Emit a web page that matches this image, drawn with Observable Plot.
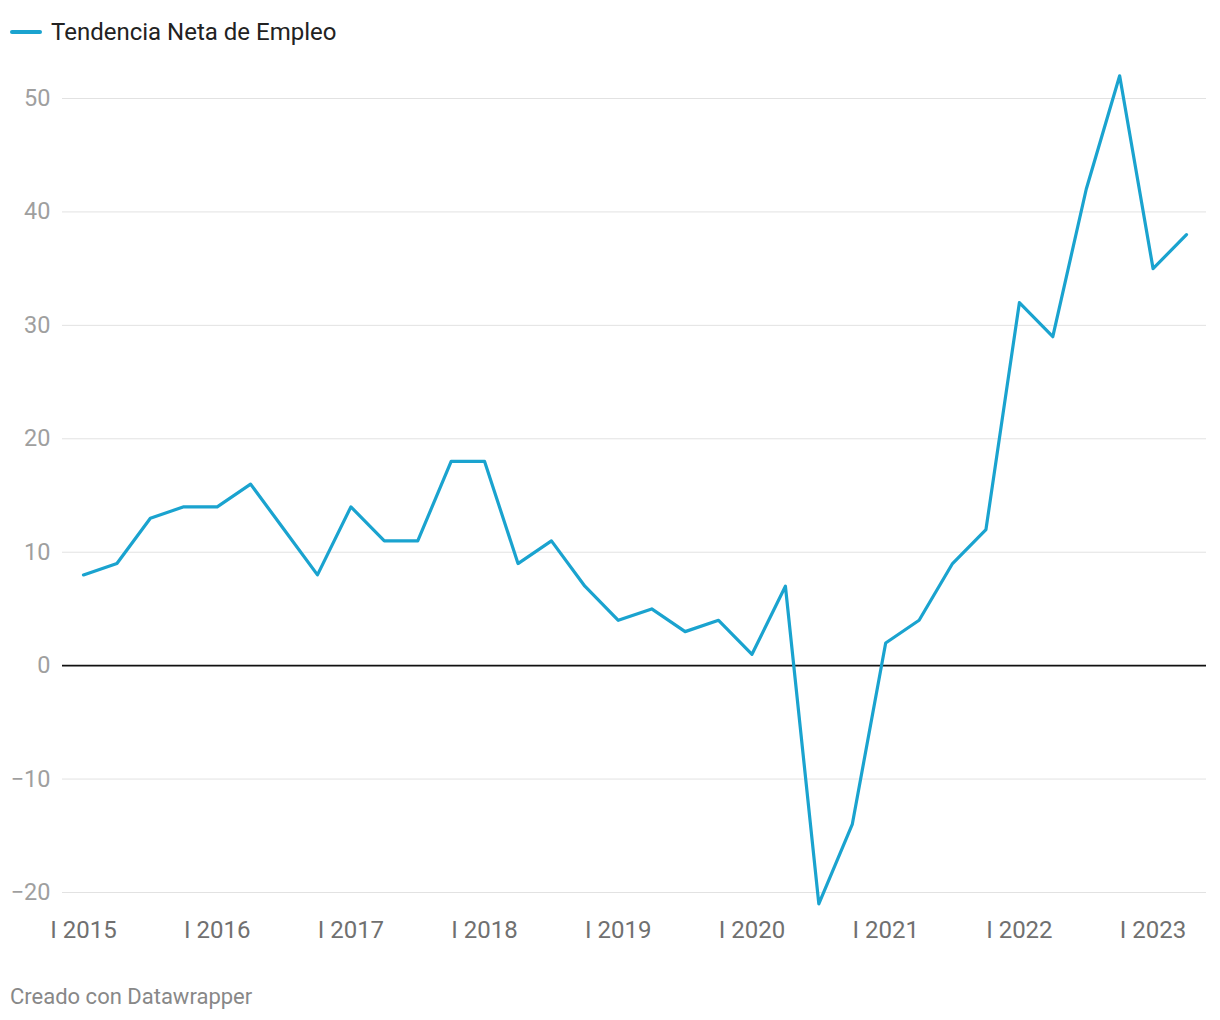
<!DOCTYPE html>
<html><head><meta charset="utf-8">
<script src="https://cdn.jsdelivr.net/npm/d3@7"></script>
<script src="https://cdn.jsdelivr.net/npm/@observablehq/plot@0.6"></script>
<style>
body{margin:0;background:#fff;font-family:Roboto,sans-serif;width:1220px;height:1020px;position:relative;overflow:hidden}
#legend{position:absolute;left:0;top:0;width:1220px;height:64px}
#legend .sw{position:absolute;left:10px;top:30px;width:32px;height:4px;border-radius:2px;background:#1aa3cf}
#legend .lb{position:absolute;left:51px;top:18px;font-size:24px;line-height:28px;color:#222}
#chart{position:absolute;left:0;top:64px}
#caption{position:absolute;left:10px;top:984px;font-size:22px;line-height:26px;color:#888}
</style></head><body>
<div id="legend"><span class="sw"></span><span class="lb">Tendencia Neta de Empleo</span></div>
<div id="chart"></div>
<div id="caption">Creado con Datawrapper</div>
<script>
const quarters = [
  "I 2015","II 2015","III 2015","IV 2015",
  "I 2016","II 2016","III 2016","IV 2016",
  "I 2017","II 2017","III 2017","IV 2017",
  "I 2018","II 2018","III 2018","IV 2018",
  "I 2019","II 2019","III 2019","IV 2019",
  "I 2020","II 2020","III 2020","IV 2020",
  "I 2021","II 2021","III 2021","IV 2021",
  "I 2022","II 2022","III 2022","IV 2022",
  "I 2023","II 2023"
];
const values = [
  8, 9, 13, 14,
  14, 16, 12, 8,
  14, 11, 11, 18,
  18, 9, 11, 7,
  4, 5, 3, 4,
  1, 7, -21, -14,
  2, 4, 9, 12,
  32, 29, 42, 52,
  35, 38
];
const xTickLabels = ["I 2015","I 2016","I 2017","I 2018","I 2019","I 2020","I 2021","I 2022","I 2023"];
const yTicks = [-20, -10, 0, 10, 20, 30, 40, 50];

const data = quarters.map((q, i) => ({q, v: values[i]}));

const chart = Plot.plot({
  width: 1220,
  height: 900,
  marginLeft: 62,
  marginRight: 14,
  marginTop: 34,
  marginBottom: 60,
  x: {type: "point", domain: quarters, range: [83, 1186], padding: 0, round: false},
  y: {domain: [-20, 50], range: [828, 34]},
  style: {fontFamily: "Roboto, sans-serif", fontSize: "22px", background: "#fff"},
  marks: [
    Plot.ruleY(yTicks.filter(d => d !== 0), {stroke: "#e2e2e2", strokeWidth: 1}),
    Plot.ruleY([0], {stroke: "#111", strokeWidth: 1.6}),
    Plot.axisY(yTicks, {tickSize: 0, tickPadding: 12, fill: "#9f9f9f", fontSize: 23.5, label: null,
      tickFormat: d => d < 0 ? "\u2212" + Math.abs(d) : String(d)}),
    Plot.axisX(xTickLabels, {tickSize: 0, tickPadding: 16, fill: "#707070", fontSize: 24, label: null}),
    Plot.line(data, {x: "q", y: "v", stroke: "#1aa3cf", strokeWidth: 3.2, strokeLinejoin: "round"})
  ]
});
document.getElementById("chart").appendChild(chart);
</script>
</body></html>
